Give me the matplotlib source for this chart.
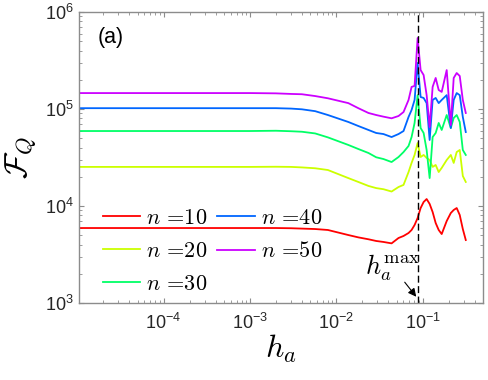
import matplotlib
matplotlib.use("Agg")
import matplotlib.pyplot as plt
from matplotlib.font_manager import FontProperties
from matplotlib.ticker import LogLocator, NullFormatter

plt.rcParams['font.family'] = ['Liberation Sans', 'DejaVu Sans']
plt.rcParams['mathtext.fontset'] = 'custom'
plt.rcParams['mathtext.rm'] = 'Liberation Sans'
plt.rcParams['mathtext.it'] = 'Liberation Sans:italic'
plt.rcParams['mathtext.bf'] = 'Liberation Sans:bold'

# ---------------- data ----------------
h_a = [1.05e-5, 1e-4, 1e-3, 0.002, 0.003, 0.004, 0.0057, 0.008, 0.0138, 0.018,
       0.0236, 0.029, 0.0352, 0.0437,
       0.0526, 0.0601, 0.0687, 0.0745, 0.0807, 0.0875, 0.0948, 0.1027, 0.1113,
       0.1206, 0.1306, 0.1416, 0.1535, 0.1663, 0.190, 0.212, 0.229, 0.248,
       0.269, 0.292, 0.316]

F_n10 = [5.93e3, 5.93e3, 5.93e3, 5.93e3, 5.90e3, 5.85e3, 5.79e3, 5.66e3, 5.02e3, 4.75e3,
         4.54e3, 4.36e3, 4.26e3, 4.12e3,
         4.68e3, 4.91e3, 5.27e3, 5.66e3, 6.37e3, 7.52e3, 9.53e3, 1.10e4, 1.18e4,
         1.05e4, 8.67e3, 6.68e3, 5.66e3, 5.14e3, 7.0e3, 8.47e3, 9.1e3, 9.53e3,
         8.08e3, 5.79e3, 4.46e3]

F_n20 = [2.53e4, 2.53e4, 2.53e4, 2.54e4, 2.53e4, 2.50e4, 2.45e4, 2.35e4, 1.94e4, 1.77e4,
         1.61e4, 1.53e4, 1.49e4, 1.41e4,
         1.57e4, 1.65e4, 2.24e4, 2.78e4, 3.36e4, 4.46e4, 3.2e4, 3.36e4, 3.13e4,
         2.98e4, 2.53e4, 2.65e4, 2.24e4, 2.47e4, 2.98e4, 3.36e4, 2.78e4, 3.6e4,
         3.78e4, 2.04e4, 1.77e4]

F_n30 = [5.93e4, 5.93e4, 5.93e4, 5.97e4, 5.90e4, 5.83e4, 5.60e4, 5.10e4, 4.26e4, 3.87e4,
         3.52e4, 3.18e4, 3.05e4, 2.84e4,
         3.2e4, 3.6e4, 4.16e4, 5.14e4, 7.18e4, 1.39e5, 6.37e4, 5.66e4, 3.78e4,
         1.94e4, 5.14e4, 5.66e4, 7.18e4, 6.08e4, 8.67e4, 6.37e4, 8.08e4, 8.67e4,
         7.35e4, 3.78e4, 3.36e4]

F_n40 = [1.02e5, 1.02e5, 1.02e5, 1.02e5, 1.01e5, 9.93e4, 9.5e4, 8.67e4, 7.35e4, 6.68e4,
         6.08e4, 5.66e4, 5.52e4, 5.14e4,
         5.52e4, 5.93e4, 8.28e4, 9.77e4, 1.24e5, 2.98e5, 1.33e5, 1.30e5, 1.15e5,
         4.79e4, 1.24e5, 1.30e5, 1.15e5, 1.24e5, 1.39e5, 6.37e4, 1.24e5, 1.46e5,
         1.39e5, 8.28e4, 5.79e4]

F_n50 = [1.46e5, 1.46e5, 1.46e5, 1.45e5, 1.43e5, 1.42e5, 1.36e5, 1.29e5, 1.15e5, 1.02e5,
         9.1e4, 8.67e4, 8.34e4, 8.02e4,
         8.47e4, 9.31e4, 1.24e5, 1.69e5, 1.73e5, 5.4e5, 2.52e5, 2.24e5, 1.39e5,
         6.52e4, 1.69e5, 2.09e5, 1.57e5, 1.5e5, 2.52e5, 6.84e4, 2.09e5, 2.35e5,
         2.19e5, 1.24e5, 9.1e4]

series = [F_n10, F_n20, F_n30, F_n40, F_n50]
n_values = ["10", "20", "30", "40", "50"]
colors = ['#ff0000', '#ccff00', '#00ff66', '#0066ff', '#cc00ff']
h_max = 0.088

# ---------------- figure ----------------
fig = plt.figure(figsize=(4.89, 3.80), dpi=100)
ax = fig.add_axes([0.1616, 0.2026, 0.8261, 0.7658])

for y, nv, c in zip(series, n_values, colors):
    ax.plot(h_a, y, color=c, lw=1.3, label=r"$n$ =" + nv)

ax.axvline(h_max, color='k', lw=1.0, ls=(0, (5, 2.5)))

ax.set_xscale('log')
ax.set_yscale('log')
ax.set_xlim(1.05e-5, 0.5)
ax.set_ylim(1e3, 1e6)
ax.set_xticks([1e-4, 1e-3, 1e-2, 1e-1])
ax.set_yticks([1e3, 1e4, 1e5, 1e6])
ax.xaxis.set_minor_locator(LogLocator(base=10, subs=range(2, 10), numticks=20))
ax.yaxis.set_minor_locator(LogLocator(base=10, subs=range(2, 10), numticks=20))
ax.xaxis.set_minor_formatter(NullFormatter())
ax.yaxis.set_minor_formatter(NullFormatter())

spine_c = '#8c8c8c'
for s in ax.spines.values():
    s.set_color(spine_c)
    s.set_linewidth(1.0)
ax.tick_params(which='both', direction='in', top=True, right=True,
               color=spine_c, labelcolor='#262626', labelsize=13)
ax.tick_params(which='major', length=3.5, width=0.8)
ax.tick_params(which='minor', length=2.0, width=0.6)
ax.tick_params(axis='x', pad=7)
ax.tick_params(axis='y', pad=4)

cm_big = FontProperties(size=23, math_fontfamily='cm')
ax.set_xlabel(r"$h_a$", fontproperties=cm_big, labelpad=0)
ax.set_ylabel(r"$\mathcal{F}_Q$", fontproperties=cm_big, labelpad=4)

ax.text(0.045, 0.914, "(a)", transform=ax.transAxes, fontsize=15.5,
        ha='left', va='center', color='k')

ax.text(0.776, 0.12, r"$h_a^{\max}$", transform=ax.transAxes,
        fontproperties=FontProperties(size=19, math_fontfamily='cm'),
        ha='center', va='center')
ax.annotate('', xy=(0.839, 0.014), xycoords='axes fraction',
            xytext=(0.802, 0.079), textcoords='axes fraction',
            arrowprops=dict(arrowstyle='-|>', color='k', lw=0.8,
                            mutation_scale=12))

leg = ax.legend(ncol=2, loc='upper left', bbox_to_anchor=(0.02, 0.38),
                frameon=False,
                prop=FontProperties(family='cmr10', size=16, math_fontfamily='cm'),
                handlelength=1.7, handletextpad=0.25, columnspacing=0.45,
                labelspacing=0.62, borderpad=0.2)

fig.savefig("out.png", dpi=100)
